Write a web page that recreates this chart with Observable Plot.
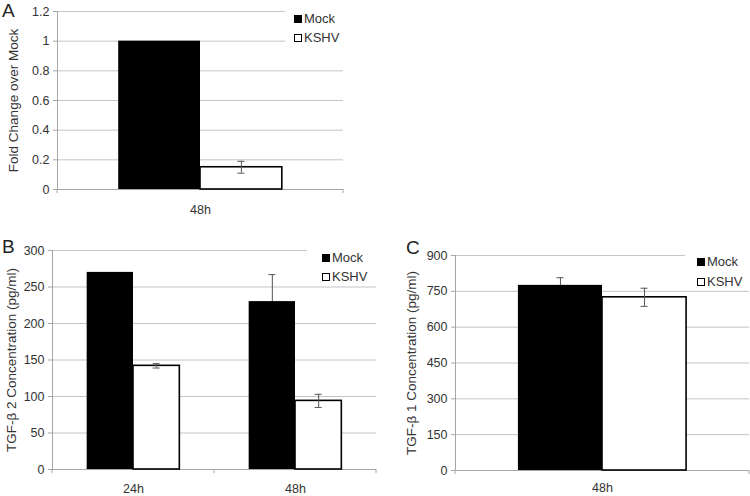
<!DOCTYPE html>
<html>
<head>
<meta charset="utf-8">
<script src="https://cdn.jsdelivr.net/npm/d3@7"></script>
<script src="https://cdn.jsdelivr.net/npm/@observablehq/plot@0.6"></script>
<style>
  html, body { margin: 0; padding: 0; background: #fff; }
  #root { position: relative; width: 750px; height: 496px; overflow: hidden; font-family: "Liberation Sans", Arial, sans-serif; color: #333; }
  .panel { position: absolute; }
  .letter { position: absolute; font-size: 19px; color: #222; line-height: 1; }
  .legend { position: absolute; background: #fff; font-size: 13px; color: #333; }
  .item { position: absolute; display: flex; align-items: center; white-space: nowrap; }
  .sw { width: 6px; height: 6px; border: 1.5px solid #000; margin-right: 2px; }
</style>
</head>
<body>
<div id="root"></div>
<script>
// ---------- data ----------
const series = ["Mock", "KSHV"];

const catsA = ["48h"];
const mockA = [1.0];
const kshvA = [0.15];
const errMockA = [0];
const errKshvA = [0.04];
const ticksA = [0, 0.2, 0.4, 0.6, 0.8, 1, 1.2];

const catsB = ["24h", "48h"];
const mockB = [270, 230];
const kshvB = [142, 94];
const errMockB = [0, 37];
const errKshvB = [3, 9];
const ticksB = [0, 50, 100, 150, 200, 250, 300];

const catsC = ["48h"];
const mockC = [775];
const kshvC = [725];
const errMockC = [32];
const errKshvC = [38];
const ticksC = [0, 150, 300, 450, 600, 750, 900];

// ---------- styles ----------
const gridColor = "#c4c4c4";
const axisColor = "#a6a6a6";
const errColor = "#555";
const fontFamily = "'Liberation Sans', Arial, sans-serif";

function rows(cats, mock, kshv, em, ek) {
  const out = [];
  cats.forEach((c, i) => {
    out.push({cat: c, s: series[0], v: mock[i], e: em[i]});
    out.push({cat: c, s: series[1], v: kshv[i], e: ek[i]});
  });
  return out;
}

function boundaryTicks(cats) {
  return (index, scales, values, dims) => {
    const x = scales.x;
    const bw = x.bandwidth ? x.bandwidth() : (dims.width - dims.marginLeft - dims.marginRight) / cats.length;
    const y0 = dims.height - dims.marginBottom;
    const g = d3.create("svg:g").attr("stroke", axisColor).attr("stroke-width", 1);
    const xs = cats.map(c => x(c));
    xs.push(x(cats[cats.length - 1]) + bw);
    xs.forEach(px => g.append("line").attr("x1", px).attr("x2", px).attr("y1", y0).attr("y2", y0 + 4));
    return g.node();
  };
}

function panel({cats, mock, kshv, em, ek, ticks, ymax, label, width, height, ml, mr, mt, mb, labelOffset, tickPadX}) {
  const data = rows(cats, mock, kshv, em, ek);
  const bw = (width - ml - mr) / cats.length;
  const frac = 0.286;
  const inOut = bw * (0.5 - frac);
  const half = bw * 0.5;
  const off = bw * frac / 2;
  const capIn = (bw - 7) / 2;
  const mockD = data.filter(d => d.s === "Mock");
  const kshvD = data.filter(d => d.s === "KSHV");
  const errM = data.filter(d => d.e > 0 && d.s === "Mock");
  const errK = data.filter(d => d.e > 0 && d.s === "KSHV");
  const errMarks = (D, dx) => [
    Plot.ruleX(D, {x: "cat", y1: d => d.v - d.e, y2: d => d.v + d.e, dx, stroke: errColor}),
    Plot.tickY(D, {x: "cat", y: d => d.v + d.e, dx, insetLeft: capIn, insetRight: capIn, stroke: errColor}),
    Plot.tickY(D, {x: "cat", y: d => d.v - d.e, dx, insetLeft: capIn, insetRight: capIn, stroke: errColor})
  ];
  return Plot.plot({
    width, height,
    marginLeft: ml, marginRight: mr, marginTop: mt, marginBottom: mb,
    style: {fontFamily, fontSize: "12.5px", color: "#333", background: "transparent", overflow: "visible"},
    x: {type: "band", domain: cats, padding: 0},
    y: {domain: [0, ymax]},
    marks: [
      Plot.ruleY(ticks, {stroke: gridColor, strokeWidth: 1}),
      Plot.axisY({ticks, tickSize: 4, tickPadding: 4, stroke: axisColor, tickFormat: d => String(d), label: null, fontSize: 12.5}),
      Plot.axisY({ticks: [], tickSize: 0, label, labelAnchor: "center", labelArrow: "none", labelOffset, fontSize: 13.5}),
      Plot.frame({anchor: "left", stroke: axisColor}),
      Plot.ruleY([0], {stroke: axisColor}),
      Plot.axisX({tickSize: 0, tickPadding: tickPadX, label: null, fontSize: 12.5}),
      boundaryTicks(cats),
      ...errMarks(errM, -off),
      Plot.barY(mockD, {x: "cat", y: "v", fill: "#000", insetLeft: inOut, insetRight: half}),
      Plot.barY(kshvD, {x: "cat", y: "v", fill: "#fff", stroke: "#000", strokeWidth: 1.6, insetLeft: half, insetRight: inOut}),
      ...errMarks(errK, off)
    ]
  });
}

const root = document.getElementById("root");

function place(el, left, top) {
  const d = document.createElement("div");
  d.className = "panel";
  d.style.left = left + "px";
  d.style.top = top + "px";
  d.appendChild(el);
  root.appendChild(d);
}

function legend(left, top, w, h, padLeft, itemTops) {
  const L = document.createElement("div");
  L.className = "legend";
  Object.assign(L.style, {left: left + "px", top: top + "px", width: w + "px", height: h + "px"});
  series.forEach((s, i) => {
    const it = document.createElement("div");
    it.className = "item";
    it.style.left = padLeft + "px";
    it.style.top = itemTops[i] + "px";
    const sw = document.createElement("span");
    sw.className = "sw";
    sw.style.background = i === 0 ? "#000" : "#fff";
    const t = document.createElement("span");
    t.textContent = s;
    it.appendChild(sw); it.appendChild(t);
    L.appendChild(it);
  });
  root.appendChild(L);
}

function letter(t, left, top) {
  const d = document.createElement("div");
  d.className = "letter";
  d.textContent = t;
  d.style.left = left + "px";
  d.style.top = top + "px";
  root.appendChild(d);
}

// Panel A
place(panel({cats: catsA, mock: mockA, kshv: kshvA, em: errMockA, ek: errKshvA, ticks: ticksA, ymax: 1.2,
  label: "Fold Change over Mock", width: 460, height: 225, ml: 57, mr: 117, mt: 11, mb: 36, labelOffset: 49, tickPadX: 16}), 0, 0);
// Panel B
place(panel({cats: catsB, mock: mockB, kshv: kshvB, em: errMockB, ek: errKshvB, ticks: ticksB, ymax: 300,
  label: "TGF-β 2 Concentration (pg/ml)", width: 400, height: 256, ml: 52, mr: 24, mt: 10, mb: 27, labelOffset: 46, tickPadX: 15}), 0, 240);
// Panel C
place(panel({cats: catsC, mock: mockC, kshv: kshvC, em: errMockC, ek: errKshvC, ticks: ticksC, ymax: 900,
  label: "TGF-β 1 Concentration (pg/ml)", width: 350, height: 256, ml: 55, mr: 1, mt: 15, mb: 26, labelOffset: 49, tickPadX: 13}), 400, 240);

legend(285, 3, 90, 44, 9, [8, 27]);
legend(307, 245, 80, 39, 15, [5, 24]);
legend(685, 250, 65, 38, 12, [4, 24]);

letter("A", 2, 1);
letter("B", 2, 237);
letter("C", 406, 238);
</script>
</body>
</html>
